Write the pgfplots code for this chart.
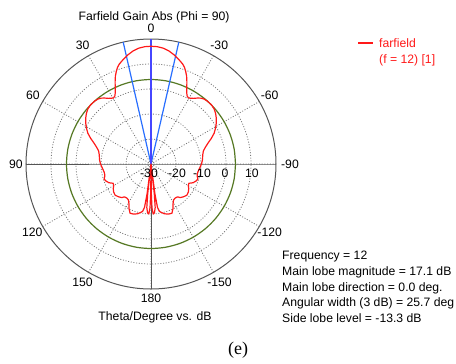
\documentclass[border=0pt]{standalone}
\usepackage{pgfplots}
\pgfplotsset{compat=1.18}
\usepgfplotslibrary{polar}
\usepackage{pgfplotstable}
\usepackage{fontspec}
\setmainfont{Liberation Sans}
\newfontfamily\capfont{Liberation Serif}

\definecolor{cstred}{RGB}{255,25,25}
\definecolor{cstgreen}{RGB}{85,120,35}
\definecolor{cstblue}{RGB}{40,110,255}
\definecolor{cstmainblue}{RGB}{70,70,255}
\definecolor{rimgray}{RGB}{85,85,85}
\definecolor{gridgray}{RGB}{120,120,120}

% Farfield gain (dB) versus theta (deg), phi = 90 cut
\pgfplotstableread{
theta db
-180 -32
-179.5 -19
-178.7 -12.5
-177.5 -10
-176 -10.4
-174.5 -12.5
-173.7 -18
-173 -32
-172.5 -18
-171.5 -12.5
-170 -10.8
-168 -10.2
-165 -9.4
-161 -8.8
-157 -8.6
-154 -10
-151 -11.8
-148 -13
-145 -13.3
-141 -13.1
-139 -12.2
-135 -11.5
-131 -11
-127 -11.3
-123 -12
-120 -12.8
-117 -13
-114 -11.6
-111 -10.8
-108 -10.3
-104 -11
-100 -11
-95 -10.5
-90 -9.8
-85 -9.3
-80 -9.0
-76 -8.4
-73 -7.3
-70 -5.8
-67 -3.8
-64 -1.9
-61 -0.5
-58 0.8
-55 1.9
-52 2.8
-49 3.5
-46 3.8
-42 3.8
-39 3.5
-37 3.0
-35 2.2
-33 1.3
-31 0.7
-29.5 0.4
-28 0.8
-26.5 2.0
-25 3.9
-23.5 6.0
-22 8.0
-20.5 9.6
-19 11.0
-17.5 12.0
-15 13.2
-12 14.6
-9 15.8
-6 16.6
-3 17.0
0 17.1
3 17.0
6 16.6
9 15.8
12 14.6
15 13.2
17.5 12.0
19 11.0
20.5 9.6
22 8.0
23.5 6.0
25 3.9
26.5 2.0
28 0.8
29.5 0.4
31 0.7
33 1.3
35 2.2
37 3.0
39 3.5
42 3.8
46 3.8
49 3.5
52 2.8
55 1.9
58 0.8
61 -0.5
64 -1.9
67 -3.8
70 -5.8
73 -7.3
76 -8.4
80 -9.0
85 -9.3
90 -9.8
95 -10.5
100 -11
104 -11
108 -10.3
111 -10.8
114 -11.6
117 -13
120 -12.8
123 -12
127 -11.3
131 -11
135 -11.5
139 -12.2
141 -13.1
145 -13.3
148 -13
151 -11.8
154 -10
157 -8.6
161 -8.8
165 -9.4
168 -10.2
170 -10.8
171.5 -12.5
172.5 -18
173 -32
173.7 -18
174.5 -12.5
176 -10.4
177.5 -10
178.7 -12.5
179.5 -19
180 -32
}\farfield

\begin{document}
\begin{tikzpicture}[x=1bp,y=1bp,
  every node/.append style={font=\fontsize{12.2bp}{14bp}\selectfont, inner sep=0pt}]
\useasboundingbox (-151,-199) rectangle (305,164);
\begin{polaraxis}[
  at={(0,0)}, anchor=center,
  scale only axis, width=250bp, height=250bp,
  xmin=0, xmax=360, ymin=0, ymax=50,
  xtick={0,30,...,330}, ytick={10,20,30,40},
  xticklabels={}, yticklabels={},
  major tick length=0pt,
  grid=major,
  major grid style={gridgray, line width=0.8bp, dash pattern=on 1bp off 1.7bp},
  axis line style={rimgray, line width=1bp},
  y axis line style={draw=none},
  clip=false,
]
% solid reference axes (theta = +-90 and lower half of theta = 0/180)
\addplot[rimgray, line width=1bp] coordinates {(0,50) (0,0) (180,50)};
\addplot[rimgray, line width=1bp] coordinates {(270,0) (270,50)};
% side lobe level circle: 17.1 - 13.3 = 3.8 dB
\addplot[cstgreen, line width=1.2bp, smooth] coordinates {
 (0,33.8) (10,33.8) (20,33.8) (30,33.8) (40,33.8) (50,33.8) (60,33.8) (70,33.8)
 (80,33.8) (90,33.8) (100,33.8) (110,33.8) (120,33.8) (130,33.8) (140,33.8)
 (150,33.8) (160,33.8) (170,33.8) (180,33.8) (190,33.8) (200,33.8) (210,33.8)
 (220,33.8) (230,33.8) (240,33.8) (250,33.8) (260,33.8) (270,33.8) (280,33.8)
 (290,33.8) (300,33.8) (310,33.8) (320,33.8) (330,33.8) (340,33.8) (350,33.8)
 (360,33.8)};
% 3 dB beamwidth limits (25.7 deg) and main lobe direction
\addplot[cstblue, line width=1.2bp] coordinates {(102.85,0) (102.85,50)};
\addplot[cstblue, line width=1.2bp] coordinates {(77.15,0) (77.15,50)};
\addplot[cstmainblue, line width=1.4bp] coordinates {(90,0) (90,50)};
% farfield gain, radius measured from the -30 dB floor
\addplot[cstred, line width=1.2bp, line join=round]
  table[x expr=\thisrow{theta}+90, y expr={max(\thisrow{db}+30,0)}] {\farfield};

% theta labels
\node at (axis cs:90,54.2)  {0};
\node at (axis cs:120,54.6) {30};
\node at (axis cs:150,54.6) {60};
\node at (axis cs:180,54.0) {90};
\node at (axis cs:210,54.8) {120};
\node at (axis cs:240,54.8) {150};
\node at (axis cs:270,53.6) {180};
\node at (axis cs:300,54.8) {-150};
\node at (axis cs:330,54.8) {-120};
\node at (axis cs:0,55.6)   {-90};
\node at (axis cs:30,54.8)  {-60};
\node at (axis cs:60,54.6)  {-30};
% radial labels (dB)
\node[yshift=-9bp, xshift=-2bp] at (axis cs:0,0) {-30};
\node[yshift=-9bp] at (axis cs:0,10.4) {-20};
\node[yshift=-9bp] at (axis cs:0,20.4) {-10};
\node[yshift=-9bp] at (axis cs:0,29.6) {0};
\node[yshift=-9bp] at (axis cs:0,40.4) {10};
\end{polaraxis}

% title and axis caption
\node[anchor=base] at (3,143.7) {Farfield Gain Abs (Phi = 90)};
\node[anchor=base] at (4,-156.3) {Theta/Degree vs. dB};

% legend
\draw[cstred, line width=1.2bp] (207,121) -- (222,121);
\node[anchor=base west, text=cstred] at (228,116.7) {farfield};
\node[anchor=base west, text=cstred] at (228,100.4) {(f = 12) [1]};

% summary
\node[anchor=base west] at (131,-95.3)  {Frequency = 12};
\node[anchor=base west] at (131,-111)   {Main lobe magnitude = 17.1 dB};
\node[anchor=base west] at (131,-127)   {Main lobe direction = 0.0 deg.};
\node[anchor=base west] at (131,-142.6) {Angular width (3 dB) = 25.7 deg};
\node[anchor=base west] at (131,-158)   {Side lobe level = -13.3 dB};

\node[anchor=base, font=\capfont\fontsize{18bp}{20bp}\selectfont] at (87,-190.5) {(e)};
\end{tikzpicture}
\end{document}
